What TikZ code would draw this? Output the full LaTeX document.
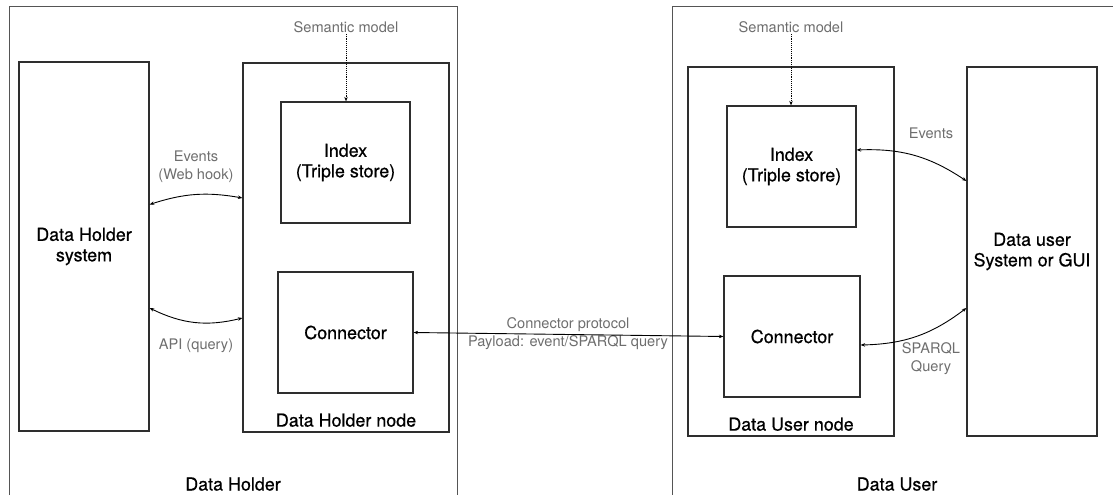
\documentclass[tikz,border=0pt]{standalone}
\usepackage{fontspec}
\setmainfont{TeX Gyre Heros}
\newfontfamily\heavyfam[FakeBold=0.6]{TeX Gyre Heros}
\usepackage{tikz}
\usetikzlibrary{arrows.meta}

\definecolor{boxline}{HTML}{2E2E2E}
\definecolor{framegray}{HTML}{555555}
\definecolor{labelgray}{HTML}{6E6E6E}
\newcommand\boxfont{\heavyfam\fontsize{17.9}{20.5}\selectfont}
\newcommand\notefont{\fontsize{14.6}{18}\selectfont}

\begin{document}
\begin{tikzpicture}[x=1pt,y=1pt,
  frame/.style={draw=framegray,line width=0.9pt},
  box/.style={draw=boxline,line width=1.2pt,inner sep=0pt,align=center,font=\boxfont},
  tall/.style={box,minimum width=#1,minimum height=369pt},
  store/.style={box,minimum width=#1,minimum height=121pt},
  boxtext/.style={inner sep=0pt,align=center,font=\boxfont},
  note/.style={inner sep=1pt,align=center,font=\notefont,text=labelgray},
  link/.style={draw=black,line width=0.9pt,{Stealth[length=4.5pt,width=3.5pt]}-{Stealth[length=4.5pt,width=3.5pt]}},
  feed/.style={draw=black,line width=0.9pt,densely dotted,-{Stealth[length=4.5pt,width=3.5pt]}}]
   \useasboundingbox (0,0) rectangle (1113,495);

   % the two organisations, open at the bottom
   \draw[frame] (9,0) -- (9,489) -- (457,489) -- (457,0);
   \draw[frame] (1113,489) -- (672,489) -- (672,0);
   \node[boxtext,anchor=base] (dhlbl) at (233,4.5) {Data Holder};
   \node[boxtext,anchor=base] (dulbl) at (897,4.5) {Data User};

   % data holder side
   \node[tall=130pt] (dhsys) at (84,248.5) {Data Holder\\system};
   \node[tall=206pt] (dhnode) at (346,247.5) {};
   \node[store=129pt] (dhidx) at (345.5,332.5) {Index\\(Triple store)};
   \node[store=135pt] (dhconn) at (345.5,162.5) {Connector};
   \node[boxtext,anchor=base] (dhnodelbl) at ([yshift=6pt]dhnode.south) {Data Holder node};
   \node[note] (dhsem) at (346,468) {Semantic model};

   % data user side
   \node[tall=206pt] (dunode) at (791,243.5) {};
   \node[store=129pt] (duidx) at (791.5,328.5) {Index\\(Triple store)};
   \node[store=136pt] (duconn) at (792,158.5) {Connector};
   \node[boxtext,anchor=base] (dunodelbl) at ([yshift=6pt]dunode.south) {Data User node};
   \node[tall=130pt] (gui) at (1032,243.5) {Data user\\System or GUI};
   \node[note] (dusem) at (791,468) {Semantic model};

   % labels on the links
   \node[note] (dhev) at (196,328) {Events\\(Web hook)};
   \node[note] (dhapi) at (196,149) {API (query)};
   \node[note] (proto) at (568,161) {Connector protocol\\Payload: event/SPARQL query};
   \node[note] (duev) at (931,362) {Events};
   \node[note] (dusparql) at (931,136) {SPARQL\\Query};

   % links
   \draw[feed] (dhsem.south) -- (dhsem.south |- dhidx.north);
   \draw[feed] (dusem.south) -- (dusem.south |- duidx.north);
   \draw[link] ([yshift=42pt]dhsys.east) to[bend left=14] ([yshift=49.5pt]dhnode.west);
   \draw[link] ([yshift=-61.5pt]dhsys.east) to[bend right=20] ([yshift=-70.5pt]dhnode.west);
   \draw[link] (dhconn.east) -- (duconn.west);
   \draw[link] ([yshift=16.5pt]duidx.east) to[bend left=18] ([yshift=70.5pt]gui.west);
   \draw[link] ([yshift=-8.5pt]duconn.east) to[bend right=18] ([yshift=-56.5pt]gui.west);
\end{tikzpicture}
\end{document}
